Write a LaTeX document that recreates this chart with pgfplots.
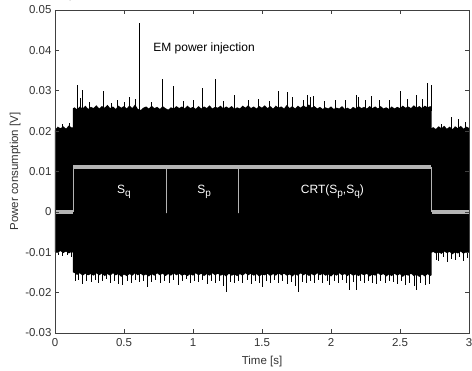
\documentclass[border=0pt]{standalone}
\usepackage{pgfplots}
\pgfplotsset{compat=1.18}
\usepackage{fontspec}
\setmainfont{Liberation Sans}
\definecolor{trig}{RGB}{180,180,180}
\newcommand\sub[1]{\raisebox{-0.5ex}{\fontsize{10bp}{10bp}\selectfont #1}}
\begin{document}
\begin{tikzpicture}
\begin{axis}[
  scale only axis, width=414bp, height=323bp,
  xmin=0, xmax=3, ymin=-0.03, ymax=0.05,
  xtick={0,0.5,1,1.5,2,2.5,3}, xticklabels={0,0.5,1,1.5,2,2.5,3},
  ytick={-0.03,-0.02,-0.01,0,0.01,0.02,0.03,0.04,0.05},
  yticklabels={-0.03,-0.02,-0.01,0,0.01,0.02,0.03,0.04,0.05},
  tick align=inside, tick pos=both, major tick length=4bp,
  axis line style={black!75, line width=0.6pt},
  every tick/.style={black!75, line width=0.6pt},
  tick label style={font=\fontsize{11.5bp}{13bp}\selectfont, text=black!80},
  xticklabel style={yshift=-2bp},
  label style={font=\fontsize{11.5bp}{13bp}\selectfont, text=black!80},
  xlabel={Time [s]}, ylabel={Power consumption [V]},
  xlabel style={yshift=-3bp}, ylabel style={yshift=-2bp},
  unbounded coords=jump,
  axis on top,
]
% noisy signal envelope (upper then lower)
\addplot[fill=black, draw=none] coordinates {
(0.00,0.0203)(0.02,0.0211)(0.04,0.0207)(0.06,0.0212)(0.08,0.0206)(0.10,0.0214)(0.12,0.0209)(0.13,0.0209)
(0.13,0.0256)(0.14,0.0259)(0.16,0.0254)(0.18,0.0261)(0.20,0.0256)(0.22,0.0263)(0.24,0.0255)(0.26,0.0260)
(0.28,0.0257)(0.30,0.0264)(0.32,0.0256)(0.34,0.0262)(0.36,0.0258)(0.38,0.0265)(0.40,0.0257)(0.42,0.0261)
(0.44,0.0255)(0.46,0.0263)(0.48,0.0258)(0.50,0.0262)(0.52,0.0256)(0.54,0.0264)(0.56,0.0257)(0.58,0.0266)
(0.60,0.0255)(0.62,0.0252)(0.64,0.0258)(0.66,0.0261)(0.68,0.0256)(0.70,0.0263)(0.72,0.0257)(0.74,0.0260)
(0.76,0.0255)(0.78,0.0262)(0.80,0.0257)(0.82,0.0253)(0.84,0.0259)(0.86,0.0256)(0.88,0.0262)(0.90,0.0257)
(0.92,0.0261)(0.94,0.0256)(0.96,0.0263)(0.98,0.0257)(1.00,0.0260)(1.02,0.0255)(1.04,0.0262)(1.06,0.0256)
(1.08,0.0261)(1.10,0.0257)(1.12,0.0264)(1.14,0.0256)(1.16,0.0260)(1.18,0.0258)(1.20,0.0263)(1.22,0.0256)
(1.24,0.0261)(1.26,0.0257)(1.28,0.0262)(1.30,0.0255)(1.32,0.0259)(1.34,0.0256)(1.36,0.0263)(1.38,0.0258)
(1.40,0.0264)(1.42,0.0257)(1.44,0.0261)(1.46,0.0256)(1.48,0.0262)(1.50,0.0258)(1.52,0.0264)(1.54,0.0257)
(1.56,0.0262)(1.58,0.0256)(1.60,0.0263)(1.62,0.0258)(1.64,0.0261)(1.66,0.0256)(1.68,0.0265)(1.70,0.0257)
(1.72,0.0262)(1.74,0.0256)(1.76,0.0263)(1.78,0.0258)(1.80,0.0264)(1.82,0.0259)(1.84,0.0266)(1.86,0.0258)
(1.88,0.0262)(1.90,0.0256)(1.92,0.0260)(1.94,0.0255)(1.96,0.0259)(1.98,0.0256)(2.00,0.0261)(2.02,0.0255)
(2.04,0.0258)(2.06,0.0256)(2.08,0.0262)(2.10,0.0255)(2.12,0.0258)(2.14,0.0254)(2.16,0.0260)(2.18,0.0256)
(2.20,0.0262)(2.22,0.0257)(2.24,0.0260)(2.26,0.0256)(2.28,0.0262)(2.30,0.0257)(2.32,0.0261)(2.34,0.0256)
(2.36,0.0262)(2.38,0.0256)(2.40,0.0259)(2.42,0.0255)(2.44,0.0261)(2.46,0.0256)(2.48,0.0260)(2.50,0.0257)
(2.52,0.0263)(2.54,0.0258)(2.56,0.0261)(2.58,0.0257)(2.60,0.0264)(2.62,0.0258)(2.64,0.0262)(2.66,0.0257)
(2.68,0.0263)(2.70,0.0259)(2.72,0.0262)(2.73,0.0258)
(2.73,0.0207)(2.74,0.0210)(2.76,0.0205)(2.78,0.0212)(2.80,0.0207)(2.82,0.0213)(2.84,0.0206)(2.86,0.0211)
(2.88,0.0205)(2.90,0.0212)(2.92,0.0207)(2.94,0.0213)(2.96,0.0206)(2.98,0.0211)(3.00,0.0208)
(3.00,-0.0101)(2.98,-0.0099)(2.96,-0.0104)(2.94,-0.0098)(2.92,-0.0103)(2.90,-0.0100)(2.88,-0.0105)(2.86,-0.0099)
(2.84,-0.0102)(2.82,-0.0098)(2.80,-0.0104)(2.78,-0.0100)(2.76,-0.0103)(2.74,-0.0099)(2.73,-0.0101)
(2.73,-0.0156)(2.72,-0.0159)(2.70,-0.0154)(2.68,-0.0160)(2.66,-0.0155)(2.64,-0.0161)(2.62,-0.0156)(2.60,-0.0159)
(2.58,-0.0153)(2.56,-0.0158)(2.54,-0.0155)(2.52,-0.0161)(2.50,-0.0154)(2.48,-0.0158)(2.46,-0.0153)(2.44,-0.0159)
(2.42,-0.0155)(2.40,-0.0160)(2.38,-0.0154)(2.36,-0.0157)(2.34,-0.0152)(2.32,-0.0158)(2.30,-0.0155)(2.28,-0.0160)
(2.26,-0.0153)(2.24,-0.0157)(2.22,-0.0154)(2.20,-0.0159)(2.18,-0.0155)(2.16,-0.0158)(2.14,-0.0153)(2.12,-0.0159)
(2.10,-0.0154)(2.08,-0.0157)(2.06,-0.0152)(2.04,-0.0158)(2.02,-0.0154)(2.00,-0.0160)(1.98,-0.0155)(1.96,-0.0158)
(1.94,-0.0153)(1.92,-0.0157)(1.90,-0.0152)(1.88,-0.0158)(1.86,-0.0154)(1.84,-0.0159)(1.82,-0.0153)(1.80,-0.0157)
(1.78,-0.0152)(1.76,-0.0158)(1.74,-0.0154)(1.72,-0.0160)(1.70,-0.0155)(1.68,-0.0158)(1.66,-0.0153)(1.64,-0.0157)
(1.62,-0.0152)(1.60,-0.0158)(1.58,-0.0154)(1.56,-0.0159)(1.54,-0.0153)(1.52,-0.0157)(1.50,-0.0155)(1.48,-0.0160)
(1.46,-0.0154)(1.44,-0.0158)(1.42,-0.0153)(1.40,-0.0157)(1.38,-0.0152)(1.36,-0.0158)(1.34,-0.0154)(1.32,-0.0159)
(1.30,-0.0155)(1.28,-0.0158)(1.26,-0.0153)(1.24,-0.0160)(1.22,-0.0155)(1.20,-0.0158)(1.18,-0.0153)(1.16,-0.0157)
(1.14,-0.0152)(1.12,-0.0158)(1.10,-0.0154)(1.08,-0.0159)(1.06,-0.0153)(1.04,-0.0157)(1.02,-0.0152)(1.00,-0.0158)
(0.98,-0.0154)(0.96,-0.0159)(0.94,-0.0155)(0.92,-0.0158)(0.90,-0.0153)(0.88,-0.0157)(0.86,-0.0152)(0.84,-0.0158)
(0.82,-0.0154)(0.80,-0.0159)(0.78,-0.0153)(0.76,-0.0157)(0.74,-0.0152)(0.72,-0.0158)(0.70,-0.0154)(0.68,-0.0160)
(0.66,-0.0155)(0.64,-0.0158)(0.62,-0.0153)(0.60,-0.0157)(0.58,-0.0152)(0.56,-0.0158)(0.54,-0.0154)(0.52,-0.0159)
(0.50,-0.0155)(0.48,-0.0161)(0.46,-0.0154)(0.44,-0.0157)(0.42,-0.0152)(0.40,-0.0158)(0.38,-0.0154)(0.36,-0.0159)
(0.34,-0.0153)(0.32,-0.0157)(0.30,-0.0152)(0.28,-0.0158)(0.26,-0.0154)(0.24,-0.0157)(0.22,-0.0153)(0.20,-0.0158)
(0.18,-0.0152)(0.16,-0.0156)(0.14,-0.0151)(0.13,-0.0150)
(0.13,-0.0101)(0.12,-0.0099)(0.10,-0.0103)(0.08,-0.0098)(0.06,-0.0102)(0.04,-0.0097)(0.02,-0.0101)(0.00,-0.0099)
} -- cycle;
% upward spikes (segments from band edge to peak)
\addplot[black, line width=0.5pt] coordinates {
(0.05,0.020)(0.05,0.0218)(nan,nan)(0.10,0.020)(0.10,0.0220)(nan,nan)
(0.16,0.025)(0.16,0.0314)(nan,nan)(0.18,0.025)(0.18,0.0282)(nan,nan)(0.196,0.025)(0.196,0.0302)(nan,nan)
(0.25,0.025)(0.25,0.0272)(nan,nan)(0.35,0.025)(0.35,0.0300)(nan,nan)(0.41,0.025)(0.41,0.0270)(nan,nan)
(0.45,0.025)(0.45,0.0278)(nan,nan)(0.50,0.025)(0.50,0.0273)(nan,nan)(0.54,0.025)(0.54,0.0285)(nan,nan)
(0.58,0.025)(0.58,0.0280)(nan,nan)(0.70,0.025)(0.70,0.0272)(nan,nan)(0.78,0.025)(0.78,0.0329)(nan,nan)
(0.855,0.025)(0.855,0.0312)(nan,nan)(0.93,0.025)(0.93,0.0274)(nan,nan)(1.00,0.025)(1.00,0.0277)(nan,nan)
(1.07,0.025)(1.07,0.0307)(nan,nan)(1.16,0.025)(1.16,0.0329)(nan,nan)(1.22,0.025)(1.22,0.0275)(nan,nan)
(1.30,0.025)(1.30,0.0290)(nan,nan)(1.40,0.025)(1.40,0.0276)(nan,nan)(1.47,0.025)(1.47,0.0279)(nan,nan)
(1.55,0.025)(1.55,0.0275)(nan,nan)(1.62,0.025)(1.62,0.0300)(nan,nan)(1.68,0.025)(1.68,0.0298)(nan,nan)
(1.72,0.025)(1.72,0.0285)(nan,nan)(1.80,0.025)(1.80,0.0276)(nan,nan)(1.83,0.025)(1.83,0.0290)(nan,nan)
(1.85,0.025)(1.85,0.0285)(nan,nan)(1.87,0.025)(1.87,0.0287)(nan,nan)(1.95,0.025)(1.95,0.0275)(nan,nan)
(2.03,0.025)(2.03,0.0276)(nan,nan)(2.10,0.025)(2.10,0.0277)(nan,nan)(2.18,0.025)(2.18,0.0290)(nan,nan)
(2.20,0.025)(2.20,0.0285)(nan,nan)(2.25,0.025)(2.25,0.0276)(nan,nan)(2.29,0.025)(2.29,0.0287)(nan,nan)
(2.35,0.025)(2.35,0.0278)(nan,nan)(2.42,0.025)(2.42,0.0276)(nan,nan)(2.50,0.025)(2.50,0.0300)(nan,nan)
(2.55,0.025)(2.55,0.0280)(nan,nan)(2.62,0.025)(2.62,0.0290)(nan,nan)(2.66,0.025)(2.66,0.0280)(nan,nan)
(2.70,0.025)(2.70,0.0320)(nan,nan)(2.725,0.025)(2.725,0.0314)(nan,nan)
(2.80,0.020)(2.80,0.0218)(nan,nan)(2.87,0.020)(2.87,0.0235)(nan,nan)(2.92,0.020)(2.92,0.0230)(nan,nan)
(2.97,0.020)(2.97,0.0222)
};
\addplot[black, line width=0.7pt] coordinates {(0.61,0.025)(0.61,0.0468)};
% downward spikes
\addplot[black, line width=0.5pt] coordinates {
(0.02,-0.0097)(0.02,-0.0108)(nan,nan)(0.05,-0.0097)(0.05,-0.0110)(nan,nan)(0.09,-0.0097)(0.09,-0.0107)(nan,nan)(0.115,-0.0097)(0.115,-0.0112)(nan,nan)
(0.15,-0.015)(0.15,-0.0172)(nan,nan)(0.17,-0.015)(0.17,-0.0168)(nan,nan)(0.20,-0.015)(0.20,-0.0178)(nan,nan)(0.23,-0.015)(0.23,-0.0170)(nan,nan)
(0.26,-0.015)(0.26,-0.0174)(nan,nan)(0.29,-0.015)(0.29,-0.0169)(nan,nan)(0.31,-0.015)(0.31,-0.0176)(nan,nan)(0.34,-0.015)(0.34,-0.0171)(nan,nan)
(0.37,-0.015)(0.37,-0.0167)(nan,nan)(0.40,-0.015)(0.40,-0.0175)(nan,nan)(0.43,-0.015)(0.43,-0.0170)(nan,nan)(0.46,-0.015)(0.46,-0.0178)(nan,nan)
(0.49,-0.015)(0.49,-0.0181)(nan,nan)(0.52,-0.015)(0.52,-0.0172)(nan,nan)(0.55,-0.015)(0.55,-0.0176)(nan,nan)(0.58,-0.015)(0.58,-0.0169)(nan,nan)
(0.61,-0.015)(0.61,-0.0174)(nan,nan)(0.64,-0.015)(0.64,-0.0171)(nan,nan)(0.67,-0.015)(0.67,-0.0186)(nan,nan)(0.70,-0.015)(0.70,-0.0173)(nan,nan)
(0.73,-0.015)(0.73,-0.0168)(nan,nan)(0.76,-0.015)(0.76,-0.0177)(nan,nan)(0.79,-0.015)(0.79,-0.0170)(nan,nan)(0.83,-0.015)(0.83,-0.0175)(nan,nan)
(0.86,-0.015)(0.86,-0.0169)(nan,nan)(0.89,-0.015)(0.89,-0.0180)(nan,nan)(0.92,-0.015)(0.92,-0.0172)(nan,nan)(0.95,-0.015)(0.95,-0.0167)(nan,nan)
(0.98,-0.015)(0.98,-0.0176)(nan,nan)(1.01,-0.015)(1.01,-0.0171)(nan,nan)(1.04,-0.015)(1.04,-0.0174)(nan,nan)(1.07,-0.015)(1.07,-0.0169)(nan,nan)
(1.10,-0.015)(1.10,-0.0178)(nan,nan)(1.13,-0.015)(1.13,-0.0172)(nan,nan)(1.16,-0.015)(1.16,-0.0176)(nan,nan)(1.19,-0.015)(1.19,-0.0170)(nan,nan)
(1.22,-0.015)(1.22,-0.0183)(nan,nan)(1.24,-0.015)(1.24,-0.0199)(nan,nan)(1.27,-0.015)(1.27,-0.0173)(nan,nan)(1.30,-0.015)(1.30,-0.0177)(nan,nan)
(1.33,-0.015)(1.33,-0.0170)(nan,nan)(1.36,-0.015)(1.36,-0.0175)(nan,nan)(1.39,-0.015)(1.39,-0.0169)(nan,nan)(1.42,-0.015)(1.42,-0.0178)(nan,nan)
(1.45,-0.015)(1.45,-0.0172)(nan,nan)(1.48,-0.015)(1.48,-0.0176)(nan,nan)(1.50,-0.015)(1.50,-0.0186)(nan,nan)(1.53,-0.015)(1.53,-0.0171)(nan,nan)
(1.56,-0.015)(1.56,-0.0175)(nan,nan)(1.59,-0.015)(1.59,-0.0169)(nan,nan)(1.62,-0.015)(1.62,-0.0177)(nan,nan)(1.65,-0.015)(1.65,-0.0172)(nan,nan)
(1.68,-0.015)(1.68,-0.0179)(nan,nan)(1.71,-0.015)(1.71,-0.0174)(nan,nan)(1.74,-0.015)(1.74,-0.0183)(nan,nan)(1.76,-0.015)(1.76,-0.0199)(nan,nan)
(1.79,-0.015)(1.79,-0.0173)(nan,nan)(1.82,-0.015)(1.82,-0.0177)(nan,nan)(1.85,-0.015)(1.85,-0.0170)(nan,nan)(1.88,-0.015)(1.88,-0.0175)(nan,nan)
(1.91,-0.015)(1.91,-0.0169)(nan,nan)(1.94,-0.015)(1.94,-0.0176)(nan,nan)(1.97,-0.015)(1.97,-0.0172)(nan,nan)(1.99,-0.015)(1.99,-0.0180)(nan,nan)
(2.02,-0.015)(2.02,-0.0171)(nan,nan)(2.05,-0.015)(2.05,-0.0175)(nan,nan)(2.08,-0.015)(2.08,-0.0169)(nan,nan)(2.11,-0.015)(2.11,-0.0176)(nan,nan)
(2.13,-0.015)(2.13,-0.0193)(nan,nan)(2.16,-0.015)(2.16,-0.0174)(nan,nan)(2.18,-0.015)(2.18,-0.0193)(nan,nan)(2.21,-0.015)(2.21,-0.0172)(nan,nan)
(2.24,-0.015)(2.24,-0.0176)(nan,nan)(2.27,-0.015)(2.27,-0.0170)(nan,nan)(2.30,-0.015)(2.30,-0.0175)(nan,nan)(2.33,-0.015)(2.33,-0.0178)(nan,nan)
(2.36,-0.015)(2.36,-0.0171)(nan,nan)(2.39,-0.015)(2.39,-0.0176)(nan,nan)(2.42,-0.015)(2.42,-0.0170)(nan,nan)(2.45,-0.015)(2.45,-0.0174)(nan,nan)
(2.48,-0.015)(2.48,-0.0179)(nan,nan)(2.51,-0.015)(2.51,-0.0172)(nan,nan)(2.54,-0.015)(2.54,-0.0180)(nan,nan)(2.57,-0.015)(2.57,-0.0175)(nan,nan)
(2.60,-0.015)(2.60,-0.0183)(nan,nan)(2.62,-0.015)(2.62,-0.0193)(nan,nan)(2.65,-0.015)(2.65,-0.0176)(nan,nan)(2.68,-0.015)(2.68,-0.0181)(nan,nan)
(2.71,-0.015)(2.71,-0.0178)(nan,nan)
(2.76,-0.0097)(2.76,-0.0118)(nan,nan)(2.78,-0.0097)(2.78,-0.0121)(nan,nan)(2.81,-0.0097)(2.81,-0.0113)(nan,nan)(2.84,-0.0097)(2.84,-0.0125)(nan,nan)
(2.87,-0.0097)(2.87,-0.0116)(nan,nan)(2.90,-0.0097)(2.90,-0.0120)(nan,nan)(2.93,-0.0097)(2.93,-0.0112)(nan,nan)(2.96,-0.0097)(2.96,-0.0122)(nan,nan)
(2.99,-0.0097)(2.99,-0.0115)
};
% trigger signal: thick levels, thin edges and dips
\addplot[trig, line width=0.8pt] coordinates {
(0.13,0)(0.13,0.0111)(0.81,0.0111)(0.81,-0.0003)(0.81,0.0111)(1.33,0.0111)(1.33,-0.0003)(1.33,0.0111)(2.73,0.0111)(2.73,0)
};
\addplot[trig, line width=3.6pt] coordinates {
(0,0)(0.13,0)(nan,nan)(0.132,0.0111)(2.728,0.0111)(nan,nan)(2.73,0)(3,0)
};
\node[white, font=\fontsize{12bp}{14bp}\selectfont] at (axis cs:0.50,0.0050) {S\sub{q}};
\node[white, font=\fontsize{12bp}{14bp}\selectfont] at (axis cs:1.08,0.0050) {S\sub{p}};
\node[white, font=\fontsize{12bp}{14bp}\selectfont] at (axis cs:2.01,0.0050) {CRT(S\sub{p},S\sub{q})};
\node[black, font=\fontsize{12bp}{14bp}\selectfont] at (axis cs:1.08,0.0405) {EM power injection};
\coordinate (SW) at (rel axis cs:0,0);
\end{axis}
\pgfresetboundingbox
\path[use as bounding box] (SW) ++(-55bp,-38bp) rectangle ++(472bp,371bp);
\end{tikzpicture}
\end{document}
